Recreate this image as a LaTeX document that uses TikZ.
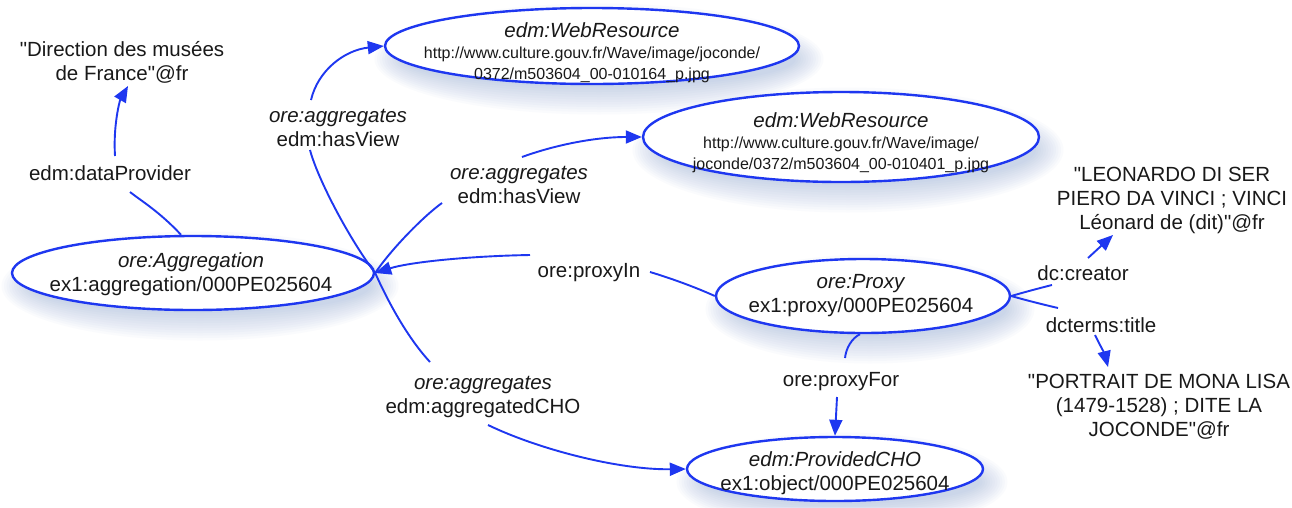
\documentclass[tikz,border=0pt]{standalone}
\usepackage{fontspec}
\setmainfont{Liberation Sans}[Ligatures=TeXOff]
\usetikzlibrary{arrows.meta,shapes.geometric}
\definecolor{edgeblue}{RGB}{30,55,240}
\definecolor{glowc}{RGB}{110,140,205}
\definecolor{txt}{RGB}{25,25,25}
\newcommand\fmain{\fontsize{20.5}{24}\selectfont}
\newcommand\furl{\fontsize{16}{21}\selectfont}
\newcommand\glowell[4]{\foreach \k in {0,...,11}{\fill[glowc,opacity=0.032] ({#1+7},{#2+13}) ellipse [x radius={(#3-10+2.5*\k)*1pt}, y radius={(#4-10+2.5*\k)*1pt}];}}
\begin{document}
\begin{tikzpicture}[x=1pt,y=-1pt,font=\fmain,text=txt,
 res/.style={ellipse,draw=edgeblue,line width=2.4pt,fill=white,inner sep=0pt},
 conn/.style={draw=edgeblue,line width=1.9pt},
 arr/.style={conn,-{Triangle[length=16pt,width=13pt]}},
 lab/.style={align=center,fill=white,inner sep=2pt},
 lit/.style={align=center,inner sep=2pt},
 rtxt/.style={align=center,inner sep=0pt}]
\fill[white] (0,0) rectangle (1292,507);
\useasboundingbox (0,0) rectangle (1292,507);
% glows
\glowell{193}{273}{181}{37}
\glowell{592}{46}{207}{38}
\glowell{841}{137}{198}{45}
\glowell{863}{296}{147}{37}
\glowell{835}{469}{148}{32}
% resources
\node[res,minimum width=362pt,minimum height=74pt] (agg) at (193,273) {};
\node[res,minimum width=414pt,minimum height=76pt] (wr1) at (592,46) {};
\node[res,minimum width=396pt,minimum height=90pt] (wr2) at (841,137) {};
\node[res,minimum width=294pt,minimum height=74pt] (proxy) at (863,296) {};
\node[res,minimum width=296pt,minimum height=64pt] (pcho) at (835,469) {};
\node[rtxt] (aggt) at (191,274) {\textit{ore:Aggregation}\\ex1:aggregation/000PE025604};
\node[rtxt] (wr1t) at (592,53) {\textit{edm:WebResource}\\[-3pt]\furl http://www.culture.gouv.fr/Wave/image/joconde/\\[-3pt]\furl 0372/m503604\_00-010164\_p.jpg};
\node[rtxt] (wr2t) at (841,143) {\textit{edm:WebResource}\\[-3pt]\furl http://www.culture.gouv.fr/Wave/image/\\[-3pt]\furl joconde/0372/m503604\_00-010401\_p.jpg};
\node[rtxt] (proxyt) at (861,296) {\textit{ore:Proxy}\\ex1:proxy/000PE025604};
\node[rtxt] (pchot) at (835,473) {\textit{edm:ProvidedCHO}\\ex1:object/000PE025604};
% literals
\node[lit] (lit1) at (122,62) {"Direction des musées\\de France"@fr};
\node[lit] (lit2) at (1172,200) {"LEONARDO DI SER\\PIERO DA VINCI ; VINCI\\Léonard de (dit)"@fr};
\node[lit] (lit3) at (1159,407) {"PORTRAIT DE MONA LISA\\(1479-1528) ; DITE LA\\JOCONDE"@fr};
% labels
\node[lab] (l1) at (110,173) {edm:dataProvider};
\node[lab] (l2) at (338,128) {\textit{ore:aggregates}\\edm:hasView};
\node[lab] (l3) at (519,185) {\textit{ore:aggregates}\\edm:hasView};
\node[lab] (l4) at (589,273) {ore:proxyIn};
\node[lab] (l5) at (483,397) {\textit{ore:aggregates}\\edm:aggregatedCHO};
\node[lab] (l6) at (841,382) {ore:proxyFor};
\node[lab] (l7) at (1083,273) {dc:creator};
\node[lab] (l8) at (1101,325) {dcterms:title};
% connectors
\draw[conn] ([shift={(-12,0)}]agg.north) .. controls (160,212) and (140,200) .. ([shift={(20,19)}]l1.center);
\draw[arr] ([shift={(5,-17)}]l1.center) .. controls (113,125) and (120,100) .. ([shift={(6,24)}]lit1.center);
\draw[conn] (agg.east) .. controls (350,240) and (318,180) .. ([shift={(-28,22)}]l2.center);
\draw[arr] ([shift={(-27,-28)}]l2.center) .. controls (318,70) and (345,50) .. (wr1.west);
\draw[conn] (agg.east) .. controls (392,248) and (425,215) .. ([shift={(-77,18)}]l3.center);
\draw[arr] ([shift={(3,-28)}]l3.center) .. controls (555,145) and (595,137) .. (wr2.west);
\draw[conn] (proxy.west) .. controls (695,287) and (670,278) .. ([shift={(61,-1)}]l4.center);
\draw[arr] ([shift={(-59,-18)}]l4.center) .. controls (470,256) and (410,262) .. (agg.east);
\draw[conn] (agg.east) .. controls (385,295) and (405,335) .. ([shift={(-53,-35)}]l5.center);
\draw[arr] ([shift={(5,28)}]l5.center) .. controls (540,450) and (620,470) .. (pcho.west);
\draw[conn] ([shift={(-3,0)}]proxy.south) .. controls (852,338) and (846,348) .. ([shift={(4,-24)}]l6.center);
\draw[arr] ([shift={(-4,15)}]l6.center) -- (pcho.north);
\draw[conn] (proxy.east) .. controls (1025,292) and (1040,288) .. ([shift={(-31,12)}]l7.center);
\draw[arr] ([shift={(5,-15)}]l7.center) -- ([shift={(-59,35)}]lit2.center);
\draw[conn] (proxy.east) .. controls (1025,300) and (1045,305) .. ([shift={(-43,-17)}]l8.center);
\draw[arr] ([shift={(-6,10)}]l8.center) .. controls (1100,345) and (1105,355) .. ([shift={(-51,-40)}]lit3.center);
\end{tikzpicture}
\end{document}
